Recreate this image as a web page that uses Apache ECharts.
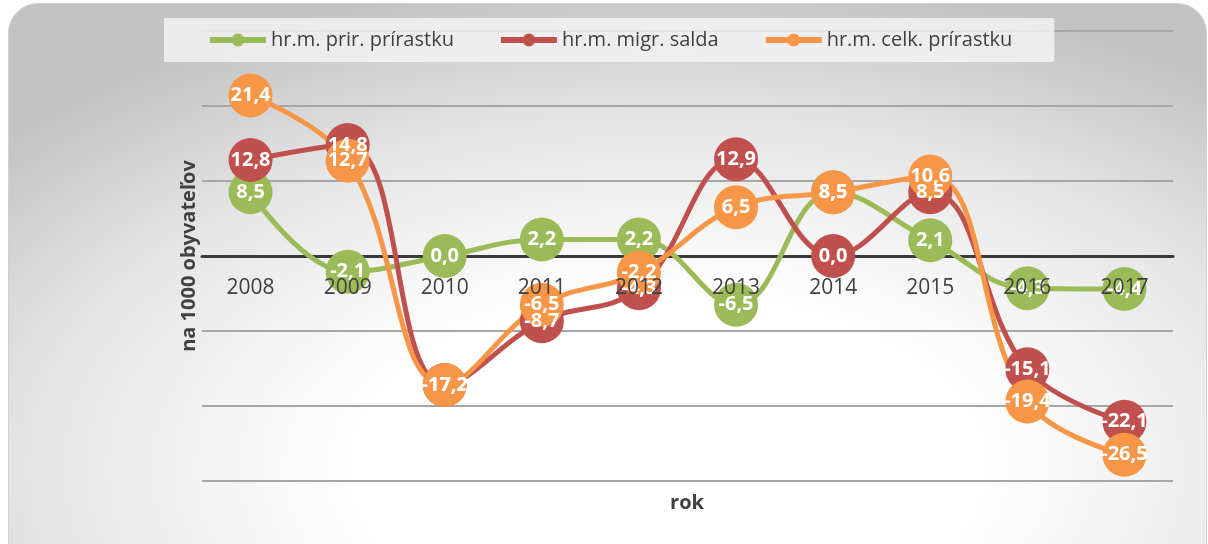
<!DOCTYPE html>
<html>
<head>
<meta charset="utf-8">
<script src="https://cdn.jsdelivr.net/npm/echarts@6/dist/echarts.min.js"></script>
<style>
  html, body { margin: 0; padding: 0; background: #fff; }
  #wrap { position: relative; width: 1208px; height: 544px; overflow: hidden; }
  #card {
    position: absolute; left: 8px; top: 3px; width: 1197px; height: 580px;
    border-radius: 30px;
    border: 1px solid #d0d0d0;
    background: radial-gradient(ellipse 75% 85% at 55% 80%, #ffffff 35%, #e6e6e6 70%, #c2c2c2 100%);
  }
  #chart { position: absolute; left: 0; top: 0; width: 1208px; height: 544px; }
</style>
</head>
<body>
<div id="wrap">
  <div id="card"></div>
  <div id="chart"></div>
</div>
<script>
// roky
var years = ['2008', '2009', '2010', '2011', '2012', '2013', '2014', '2015', '2016', '2017'];
// hrubá miera prirodzeného prírastku
var prirodzeny = [8.5, -2.1, 0.0, 2.2, 2.2, -6.5, 8.5, 2.1, -4.3, -4.4];
// hrubá miera salda migrácie
var migracia = [12.8, 14.8, -17.2, -8.7, -4.3, 12.9, 0.0, 8.5, -15.1, -22.1];
// hrubá miera celkového prírastku
var celkovy = [21.4, 12.7, -17.2, -6.5, -2.2, 6.5, 8.5, 10.6, -19.4, -26.5];

var names = ['hr.m. prir. prírastku', 'hr.m. migr. salda', 'hr.m. celk. prírastku'];
var font = '"Open Sans", "Noto Sans", sans-serif';

function makeSeries(name, data, color) {
    return {
        name: name,
        type: 'line',
        data: data,
        smooth: 0.4,
        symbol: 'circle',
        symbolSize: 44,
        itemStyle: { color: color },
        lineStyle: { color: color, width: 5 },
        label: {
            show: true,
            position: 'inside',
            color: '#fff',
            fontFamily: font,
            fontWeight: 'bold',
            fontSize: 20,
            formatter: function (p) {
                return p.value.toFixed(1).replace('.', ',');
            }
        },
        emphasis: { disabled: true }
    };
}

var option = {
    animation: false,
    color: ['#9bbb59', '#c0504d', '#f79646'],
    legend: {
        left: 164,
        top: 18,
        padding: [12, 42, 12, 43],
        itemGap: 44,
        itemWidth: 56,
        itemHeight: 16,
        lineStyle: { width: 6 },
        backgroundColor: 'rgba(245,245,245,0.8)',
        textStyle: { color: '#404040', fontSize: 20, fontFamily: font },
        data: names
    },
    grid: [
        // hlavná plocha
        { left: 202, right: 35, top: 31, bottom: 63 },
        // pomocná plocha, ktorej spodok je na nule -> popisky rokov
        { left: 202, right: 35, top: 31, bottom: 288 }
    ],
    xAxis: [{
        type: 'category',
        gridIndex: 0,
        data: years,
        z: 0,
        axisLine: { onZero: true, lineStyle: { color: '#3a3a3a', width: 3 } },
        axisTick: { show: false },
        axisLabel: { show: false }
    }, {
        type: 'category',
        gridIndex: 1,
        data: years,
        z: 20,
        axisLine: { show: false, onZero: false },
        axisTick: { show: false },
        axisLabel: { color: '#404040', fontSize: 21, fontFamily: font, margin: 22 }
    }],
    yAxis: [{
        type: 'value',
        gridIndex: 0,
        min: -30,
        max: 30,
        interval: 10,
        axisLabel: { show: false },
        axisLine: { show: false },
        axisTick: { show: false },
        splitLine: { lineStyle: { color: '#a6a6a6', width: 2 } },
        name: 'na 1000 obyvateľov',
        nameLocation: 'middle',
        nameGap: 3,
        nameRotate: 90,
        nameTextStyle: { color: '#404040', fontSize: 20, fontWeight: 'bold', fontFamily: font }
    }, {
        type: 'value',
        gridIndex: 1,
        min: 0,
        max: 30,
        interval: 10,
        axisLabel: { show: false },
        axisLine: { show: false },
        axisTick: { show: false },
        splitLine: { show: false }
    }],
    graphic: [{
        type: 'text',
        x: 687,
        y: 503,
        style: {
            text: 'rok', fill: '#404040', fontSize: 20, fontWeight: 'bold', fontFamily: font,
            align: 'center', verticalAlign: 'middle'
        }
    }],
    series: [
        makeSeries(names[0], prirodzeny, '#9bbb59'),
        makeSeries(names[1], migracia, '#c0504d'),
        makeSeries(names[2], celkovy, '#f79646')
    ]
};

var myChart = echarts.init(document.getElementById('chart'));
myChart.setOption(option);
</script>
</body>
</html>
